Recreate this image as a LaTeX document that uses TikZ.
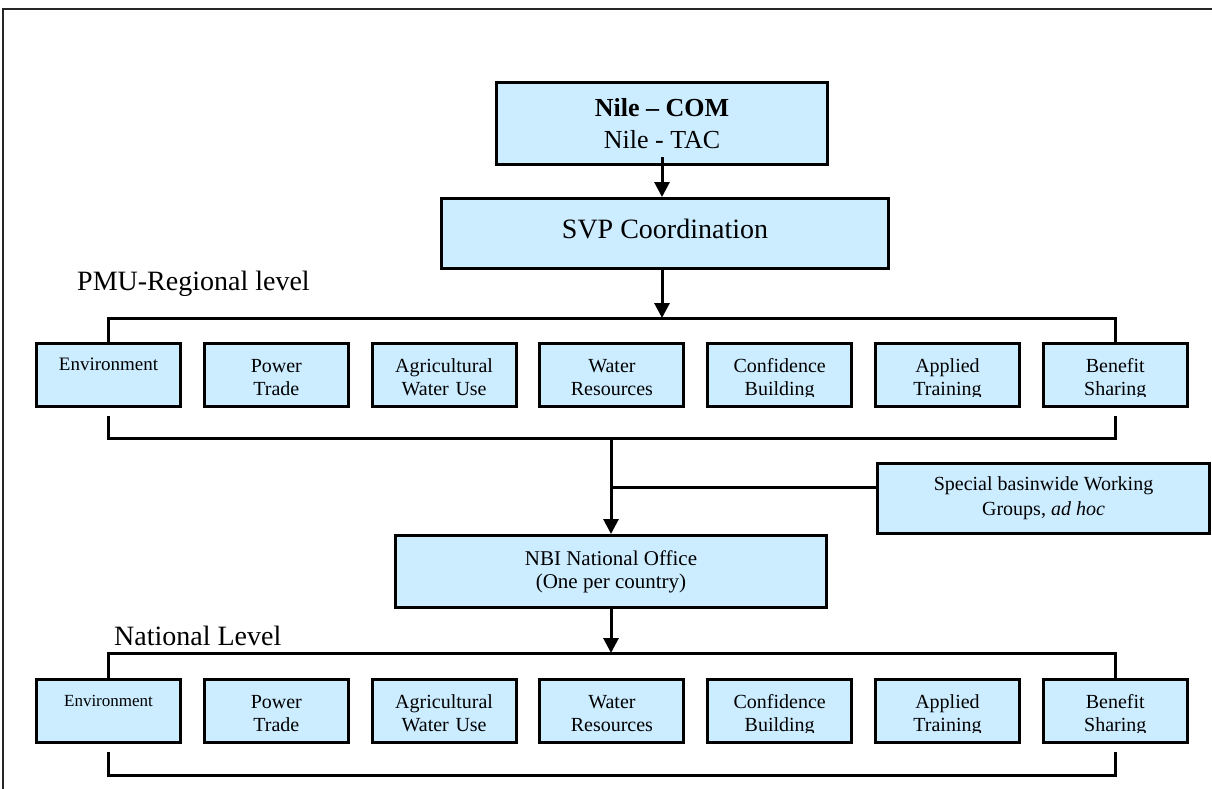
\documentclass[tikz,border=0pt]{standalone}
\usepackage{fontspec}
\setmainfont{Liberation Serif}
\usetikzlibrary{arrows.meta}
\definecolor{paleblue}{RGB}{204,236,255}
\begin{document}
\begin{tikzpicture}[x=1pt,y=-1pt,
    box/.style={draw,line width=3pt,fill=paleblue,inner sep=0pt,align=center},
    unit/.style={box,minimum width=144pt,minimum height=63pt},
    unittxt/.style={anchor=base,inner sep=0pt,text width=140pt,align=center},
    wire/.style={line width=3pt},
    arr/.style={line width=3pt,-{Triangle[length=15pt,width=15pt]}}]
\useasboundingbox (0,0) rectangle (1212,789);
\def\units{Environment,Power\\Trade,Agricultural\\Water Use,Water\\Resources,Confidence\\Building,Applied\\Training,Benefit\\Sharing}
\newcommand{\unitrow}[3]{
  % #1 prefix, #2 y of the row, #3 font of the first box
  \foreach \lbl [count=\i] in \units {
    \pgfmathsetmacro{\cx}{108.5+167.8*(\i-1)}
    \node[unit] (#1\i) at (\cx,#2) {};
  }
  % the second line is cut off at the bottom
  \begin{scope}
    \clip (0,{#2-33}) rectangle (1212,{#2+21.5});
    \foreach \lbl [count=\i] in \units {
      \ifnum\i=1
        \node[unittxt,font=#3] at ([yshift=-28.5pt]#1\i.north) {\lbl};
      \else
        \node[unittxt,font=\fontsize{20}{23}\selectfont] at ([yshift=-30.5pt]#1\i.north) {\lbl};
      \fi
    }
  \end{scope}
}

% frame
\draw[line width=2pt,black!85] (3,789) -- (3,9) -- (1212,9);

% top of the tree
\node[box,minimum width=331pt,minimum height=82pt,font=\fontsize{26}{32}\selectfont]
  (com) at (662,123.5) {\textbf{Nile -- COM}\\Nile - TAC};
\node[box,minimum width=447pt,minimum height=70pt,text depth=10pt,font=\fontsize{28}{32}\selectfont]
  (svp) at (665,233.5) {SVP Coordination};
\draw[arr] ([yshift=9pt]com.south) -- (com.south |- svp.north);

% regional level
\node[anchor=base west,inner sep=0pt,font=\fontsize{28}{32}\selectfont] (pmu) at (77,290) {PMU-Regional level};
\unitrow{reg}{375}{\fontsize{19}{23}\selectfont}
\coordinate (regtop) at (com.south |- 0,318);
\draw[arr] (com.south |- svp.south) -- (regtop);
\draw[wire] (reg1.north) -- (reg1.north |- regtop) -- (reg7.north |- regtop) -- (reg7.north);
\draw[wire] ([yshift=-8pt]reg1.south) -- (reg1.south |- 0,438) -- (reg7.south |- 0,438) -- ([yshift=-8pt]reg7.south);

% national office
\node[box,minimum width=431pt,minimum height=72pt,font=\fontsize{21}{23}\selectfont]
  (nbi) at (611,571.5) {NBI National Office\\(One per country)};
\node[box,minimum width=332pt,minimum height=70pt,font=\fontsize{20}{25}\selectfont]
  (special) at (1043.5,498.5) {Special basinwide Working\\Groups, \textit{ad hoc}};
\coordinate (regmid) at (nbi.north |- 0,438);
\draw[arr] (regmid) -- (nbi.north);
\coordinate (sw) at ([yshift=11.5pt]special.west);
\draw[wire] (sw) -- (sw -| regmid);

% national level
\node[anchor=base west,inner sep=0pt,font=\fontsize{28}{32}\selectfont] (natl) at (114,645) {National Level};
\unitrow{nat}{711}{\fontsize{17}{23}\selectfont}
\coordinate (nattop) at (nbi.south |- 0,653);
\draw[arr] (nbi.south) -- (nattop);
\draw[wire] (nat1.north) -- (nat1.north |- nattop) -- (nat7.north |- nattop) -- (nat7.north);
\draw[wire] ([yshift=-8pt]nat1.south) -- (nat1.south |- 0,775) -- (nat7.south |- 0,775) -- ([yshift=-8pt]nat7.south);
\end{tikzpicture}
\end{document}
